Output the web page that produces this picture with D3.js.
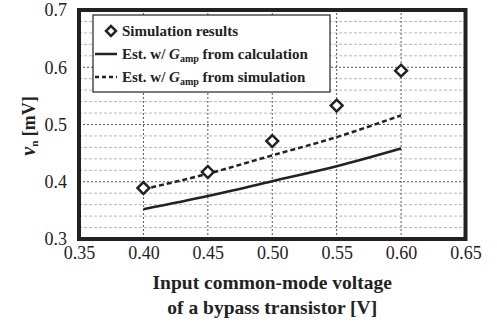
<!DOCTYPE html>
<html>
<head>
<meta charset="utf-8">
<script src="https://cdn.jsdelivr.net/npm/d3@7"></script>
<style>
  body { margin: 0; background: #fff; }
  svg text { font-family: "Liberation Serif", "Times New Roman", "DejaVu Serif", serif; }
</style>
</head>
<body>
<figure id="chart" style="margin:0"></figure>
<script>
// values
const xVals = [0.40, 0.45, 0.50, 0.55, 0.60];
const simResults = [0.389, 0.417, 0.471, 0.533, 0.594];
const estCalc = [0.352, 0.375, 0.401, 0.427, 0.458];
const estSim = [0.387, 0.414, 0.446, 0.478, 0.516];
const xTicks = [0.35, 0.40, 0.45, 0.50, 0.55, 0.60, 0.65];
const yTicks = [0.3, 0.4, 0.5, 0.6, 0.7];
const yMinor = [0.32, 0.34, 0.36, 0.38, 0.42, 0.44, 0.46, 0.48, 0.52, 0.54, 0.56, 0.58, 0.62, 0.64, 0.66, 0.68];

const width = 497, height = 326;
const margin = {left: 79, right: 31.5, top: 10, bottom: 87};
const ink = "#222";
const serif = '"Liberation Serif", "Times New Roman", "DejaVu Serif", serif';

const svg = d3.select("figure#chart")
  .append("svg")
  .attr("width", width)
  .attr("height", height);

const x = d3.scaleLinear().domain([0.35, 0.65]).range([margin.left, width - margin.right]);
const y = d3.scaleLinear().domain([0.3, 0.7]).range([height - margin.bottom, margin.top]);

// minor grid
svg.append("g")
  .selectAll("line")
  .data(yMinor)
  .enter().append("line")
  .attr("x1", x(0.35)).attr("x2", x(0.65))
  .attr("y1", d => y(d)).attr("y2", d => y(d))
  .attr("stroke", "#b8b8b8")
  .attr("stroke-width", 1)
  .attr("stroke-dasharray", "3,2");

// major grid
svg.append("g")
  .selectAll("line")
  .data(yTicks.slice(1, -1))
  .enter().append("line")
  .attr("x1", x(0.35)).attr("x2", x(0.65))
  .attr("y1", d => y(d)).attr("y2", d => y(d))
  .attr("stroke", "#555")
  .attr("stroke-width", 1)
  .attr("stroke-dasharray", "2,2");

svg.append("g")
  .selectAll("line")
  .data(xTicks.slice(1, -1))
  .enter().append("line")
  .attr("y1", y(0.3)).attr("y2", y(0.7))
  .attr("x1", d => x(d)).attr("x2", d => x(d))
  .attr("stroke", "#555")
  .attr("stroke-width", 1)
  .attr("stroke-dasharray", "2,2");

// lines
const line = d3.line()
  .x((d, i) => x(xVals[i]))
  .y(d => y(d))
  .curve(d3.curveMonotoneX);

svg.append("path")
  .datum(estCalc)
  .attr("fill", "none")
  .attr("stroke", ink)
  .attr("stroke-width", 2.5)
  .attr("d", line);

svg.append("path")
  .datum(estSim)
  .attr("fill", "none")
  .attr("stroke", ink)
  .attr("stroke-width", 2.5)
  .attr("stroke-dasharray", "5,3")
  .attr("d", line);

// markers
const diamond = d3.symbol().type(d3.symbolSquare).size(70);
svg.append("g")
  .selectAll("path")
  .data(simResults)
  .enter().append("path")
  .attr("d", diamond)
  .attr("transform", (d, i) => `translate(${x(xVals[i])},${y(d)}) rotate(45)`)
  .attr("fill", "#fff")
  .attr("stroke", ink)
  .attr("stroke-width", 2.5);

// frame
svg.append("rect")
  .attr("x", x(0.35)).attr("y", y(0.7))
  .attr("width", x(0.65) - x(0.35))
  .attr("height", y(0.3) - y(0.7))
  .attr("fill", "none")
  .attr("stroke", ink)
  .attr("stroke-width", 4);

// axes
const xAxis = svg.append("g")
  .attr("transform", `translate(0,${y(0.3)})`)
  .call(d3.axisBottom(x).tickValues(xTicks).tickSize(0).tickPadding(7).tickFormat(d3.format(".2f")));
const yAxis = svg.append("g")
  .attr("transform", `translate(${x(0.35)},0)`)
  .call(d3.axisLeft(y).tickValues(yTicks).tickSize(0).tickPadding(12).tickFormat(d3.format(".1f")));
[xAxis, yAxis].forEach(g => {
  g.attr("font-family", null).attr("font-size", null);
  g.select(".domain").remove();
  g.selectAll("text")
    .attr("fill", ink)
    .style("font-family", serif)
    .style("font-size", "18px");
});

// axis titles
const xTitle = svg.append("text")
  .attr("text-anchor", "middle")
  .attr("fill", ink)
  .style("font-family", serif)
  .style("font-weight", "bold")
  .style("font-size", "19.5px");
xTitle.append("tspan").attr("x", x(0.5)).attr("y", 289).text("Input common-mode voltage");
xTitle.append("tspan").attr("x", x(0.5)).attr("y", 314).text("of a bypass transistor [V]");

const yTitle = svg.append("text")
  .attr("transform", `translate(35,126) rotate(-90)`)
  .attr("text-anchor", "middle")
  .attr("fill", ink)
  .style("font-family", serif)
  .style("font-weight", "bold")
  .style("font-size", "18px");
yTitle.append("tspan").style("font-style", "italic").style("font-size", "20px").text("v");
yTitle.append("tspan").attr("dy", 3).style("font-size", "11px").text("n");
yTitle.append("tspan").attr("dy", -3).text(" [mV]");

// legend
const lg = svg.append("g").attr("transform", "translate(93,15)");
lg.append("rect")
  .attr("width", 237).attr("height", 77)
  .attr("fill", "#fff")
  .attr("stroke", ink)
  .attr("stroke-width", 1.2);

const entries = [
  {kind: "marker", label: ["Simulation results"]},
  {kind: "solid", label: ["Est. w/ ", "G", "amp", " from calculation"]},
  {kind: "dash", label: ["Est. w/ ", "G", "amp", " from simulation"]}
];
entries.forEach((e, i) => {
  const cy = 16 + i * 23;
  if (e.kind === "marker") {
    lg.append("path")
      .attr("d", d3.symbol().type(d3.symbolSquare).size(50))
      .attr("transform", `translate(18,${cy}) rotate(45)`)
      .attr("fill", "#fff").attr("stroke", ink).attr("stroke-width", 2.5);
  } else {
    lg.append("line")
      .attr("x1", 2).attr("x2", 24).attr("y1", cy).attr("y2", cy)
      .attr("stroke", ink).attr("stroke-width", 2.5)
      .attr("stroke-dasharray", e.kind === "dash" ? "4,3" : null);
  }
  const t = lg.append("text")
    .attr("x", 29).attr("y", cy + 5)
    .attr("fill", ink)
    .style("font-family", serif)
    .style("font-weight", "bold")
    .style("font-size", "15px");
  if (e.label.length === 1) {
    t.text(e.label[0]);
  } else {
    t.append("tspan").text(e.label[0]);
    t.append("tspan").style("font-style", "italic").text(e.label[1]);
    t.append("tspan").attr("dy", 3).style("font-size", "10px").text(e.label[2]);
    t.append("tspan").attr("dy", -3).text(e.label[3]);
  }
});
</script>
</body>
</html>
